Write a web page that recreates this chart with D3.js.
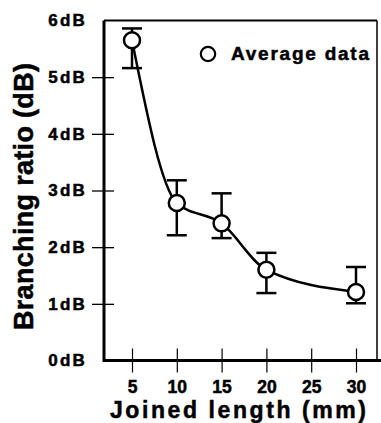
<!DOCTYPE html>
<html>
<head>
<meta charset="utf-8">
<script src="https://cdn.jsdelivr.net/npm/d3@7"></script>
<style>
	html, body { margin: 0; padding: 0; background: #fff; }
	svg { display: block; font-family: "Liberation Sans", Arial, sans-serif; font-weight: bold; }
	svg text { stroke: #000; stroke-width: 0.5px; }
	.axis--y .tick text { font-size: 17px; letter-spacing: 2.2px; }
	.axis--x .tick text { font-size: 17.5px; }
</style>
</head>
<body>
<svg id="chart" width="381" height="423"></svg>
<script>
	'use strict';

	// tick labels on the x axis (evenly spaced, 25 has no data)
	const lengthTicks = ['5', '10', '15', '20', '25', '30'];
	// measured joined lengths (mm)
	const lengths = ['5', '10', '15', '20', '30'];
	// average branching ratio (dB)
	const avgRatio = [5.65, 2.78, 2.42, 1.60, 1.21];
	// error bar top / bottom (dB)
	const errTop = [5.86, 3.18, 2.95, 1.90, 1.65];
	const errBottom = [5.16, 2.21, 2.16, 1.19, 1.01];
	const ratioTicks = [0, 1, 2, 3, 4, 5, 6];

	const box = { left: 104, right: 377, top: 20.5, bottom: 360.5 };

	const svg = d3.select('#chart');

	const x = d3.scalePoint()
		.domain(lengthTicks)
		.range([132, 356]);

	const y = d3.scaleLinear()
		.domain([0, 6])
		.range([box.bottom, box.top]);

	// frame: thin top and right
	svg.append('line')
		.attr('x1', box.left).attr('x2', box.right)
		.attr('y1', box.top).attr('y2', box.top)
		.attr('stroke', '#000').attr('stroke-width', 2);
	svg.append('line')
		.attr('x1', box.right).attr('x2', box.right)
		.attr('y1', box.top).attr('y2', box.bottom)
		.attr('stroke', '#000').attr('stroke-width', 1.5);

	// y axis
	const yAxis = d3.axisLeft(y)
		.tickValues(ratioTicks)
		.tickFormat(function(d) { return d + 'dB'; })
		.tickSize(0)
		.tickPadding(17);

	const gy = svg.append('g')
		.attr('class', 'axis axis--y')
		.attr('transform', 'translate(' + box.left + ',0)')
		.call(yAxis);
	gy.attr('font-size', null).attr('font-family', null);
	gy.select('.domain').remove();
	gy.selectAll('.tick text')
		.attr('fill', '#000');
	gy.selectAll('.tick line')
		.attr('x1', -12).attr('x2', 10)
		.attr('stroke-width', 1.3)
		.attr('display', function(d) { return (d === 0 || d === 6) ? 'none' : null; });

	// x axis
	const xAxis = d3.axisBottom(x)
		.tickSize(0)
		.tickPadding(20);

	const gx = svg.append('g')
		.attr('class', 'axis axis--x')
		.attr('transform', 'translate(0,' + box.bottom + ')')
		.call(xAxis);
	gx.attr('font-size', null).attr('font-family', null);
	gx.select('.domain').remove();
	gx.selectAll('.tick text')
		.attr('fill', '#000');
	gx.selectAll('.tick line')
		.attr('y1', -12).attr('y2', 12)
		.attr('stroke-width', 1.2);

	// thick left and bottom axis lines
	svg.append('path')
		.attr('d', 'M' + box.left + ',' + box.top + 'V' + box.bottom + 'H381')
		.attr('fill', 'none')
		.attr('stroke', '#000')
		.attr('stroke-width', 3);

	// axis titles
	svg.append('text')
		.attr('x', 110).attr('y', 418)
		.attr('font-size', 23)
		.attr('textLength', 256)
		.attr('lengthAdjust', 'spacing')
		.text('Joined length (mm)');

	svg.append('text')
		.attr('transform', 'translate(33,330) rotate(-90)')
		.attr('font-size', 27)
		.attr('textLength', 267)
		.attr('lengthAdjust', 'spacing')
		.text('Branching ratio (dB)');

	const points = lengths.map(function(l, i) {
		return { len: l, avg: avgRatio[i], hi: errTop[i], lo: errBottom[i] };
	});

	// fitted curve
	const line = d3.line()
		.x(function(d) { return x(d.len); })
		.y(function(d) { return y(d.avg); })
		.curve(d3.curveMonotoneX);

	svg.append('path')
		.datum(points)
		.attr('d', line)
		.attr('fill', 'none')
		.attr('stroke', '#000')
		.attr('stroke-width', 2.5);

	// error bars
	const eb = svg.append('g')
		.attr('stroke', '#000')
		.attr('stroke-width', 2.5)
		.selectAll('g')
		.data(points)
		.enter()
		.append('g');

	eb.append('line')
		.attr('x1', function(d) { return x(d.len); })
		.attr('x2', function(d) { return x(d.len); })
		.attr('y1', function(d) { return y(d.hi); })
		.attr('y2', function(d) { return y(d.lo); });
	eb.append('line')
		.attr('x1', function(d) { return x(d.len) - 10; })
		.attr('x2', function(d) { return x(d.len) + 10; })
		.attr('y1', function(d) { return y(d.hi); })
		.attr('y2', function(d) { return y(d.hi); });
	eb.append('line')
		.attr('x1', function(d) { return x(d.len) - 10; })
		.attr('x2', function(d) { return x(d.len) + 10; })
		.attr('y1', function(d) { return y(d.lo); })
		.attr('y2', function(d) { return y(d.lo); });

	// markers
	svg.append('g')
		.selectAll('circle')
		.data(points)
		.enter()
		.append('circle')
		.attr('cx', function(d) { return x(d.len); })
		.attr('cy', function(d) { return y(d.avg); })
		.attr('r', 8)
		.attr('fill', '#fff')
		.attr('stroke', '#000')
		.attr('stroke-width', 2.5);

	// legend
	svg.append('circle')
		.attr('cx', 208).attr('cy', 54)
		.attr('r', 7.2)
		.attr('fill', '#fff')
		.attr('stroke', '#000')
		.attr('stroke-width', 2.2);
	svg.append('text')
		.attr('x', 231).attr('y', 60)
		.attr('font-size', 19)
		.attr('textLength', 138)
		.attr('lengthAdjust', 'spacing')
		.text('Average data');
</script>
</body>
</html>
